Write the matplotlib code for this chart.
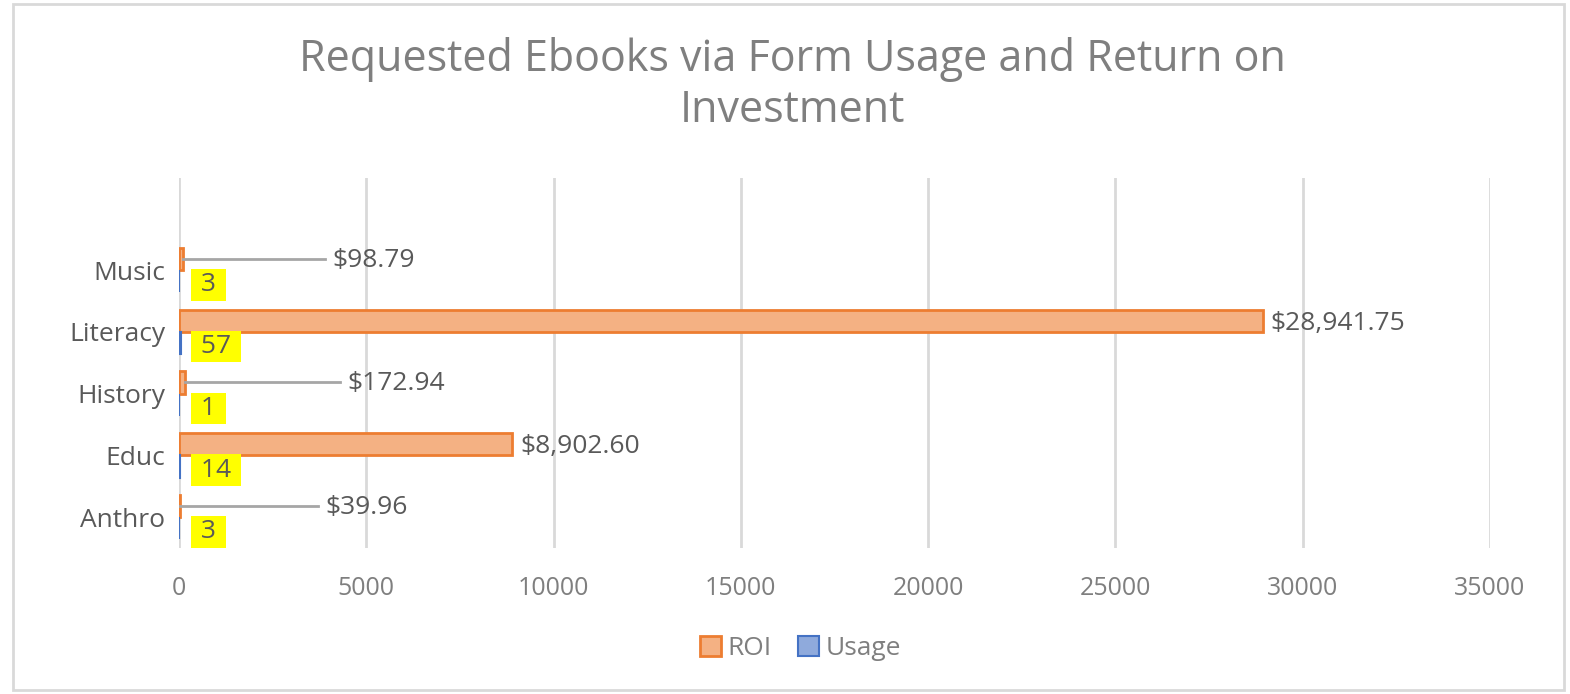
import numpy as np
import matplotlib.pyplot as plt
from matplotlib.patches import Rectangle

categories = ["Anthro", "Educ", "History", "Literacy", "Music"]
roi = [39.96, 8902.60, 172.94, 28941.75, 98.79]
usage = [3, 14, 1, 57, 3]
xticks = [0, 5000, 10000, 15000, 20000, 25000, 30000, 35000]

plt.rcParams['font.family'] = ['Open Sans', 'DejaVu Sans']
grey = '#7f7f7f'
dark = '#595959'

fig = plt.figure(figsize=(15.7, 6.94), dpi=100)
ax = fig.add_axes([0.114, 0.2104, 0.835, 0.5331])

y = np.arange(len(categories))
h = 0.36
ax.barh(y + h / 2, roi, height=h, color='#F4B183', edgecolor='#ED7D31',
        linewidth=2, label='ROI', zorder=3)
ax.barh(y - h / 2, usage, height=h, color='#8FAADC', edgecolor='#4472C4',
        linewidth=1.5, label='Usage', zorder=3)

# ROI labels: small values moved out with a leader line
lead_end = {0: 3700, 2: 4300, 4: 3900}
for i, v in enumerate(roi):
    txt = f"${v:,.2f}"
    if i in lead_end:
        ax.plot([v, lead_end[i]], [y[i] + h / 2, y[i] + h / 2], color='#a6a6a6',
                lw=2, zorder=4)
        ax.text(lead_end[i] + 200, y[i] + h / 2 - 0.02, txt, fontsize=19,
                color=dark, va='center', ha='left', zorder=5)
    else:
        ax.text(v + 200, y[i] + h / 2 - 0.04, txt, fontsize=19, color=dark,
                va='center', ha='left', zorder=5)

for i, v in enumerate(usage):
    ax.text(400, y[i] - h / 2 - 0.06, f" {v} ", fontsize=19, color=dark,
            va='center', ha='left', zorder=6,
            bbox=dict(boxstyle='square,pad=0.12', fc='#FFFF00', ec='none'))

ax.set_xlim(0, 35000)
ax.set_ylim(-0.5, 5.49)
ax.set_xticks(xticks)
ax.set_xticklabels([str(t) for t in xticks], fontsize=18, color=grey)
ax.set_yticks(y)
ax.set_yticklabels(categories, fontsize=19, color=dark)
ax.tick_params(length=0, pad=10)
ax.tick_params(axis='x', pad=20)
ax.grid(axis='x', color='#d9d9d9', lw=2, zorder=0)
for s in ax.spines.values():
    s.set_visible(False)

fig.text(0.505, 0.877, "Requested Ebooks via Form Usage and Return on\nInvestment",
         ha='center', va='center', fontsize=31, color=grey, linespacing=1.2)

handles, labels = ax.get_legend_handles_labels()
fig.legend(handles, labels, loc='center', bbox_to_anchor=(0.51, 0.066), ncol=2,
           frameon=False, fontsize=19, handlelength=0.8, handleheight=0.8,
           handletextpad=0.25, columnspacing=1.0, labelcolor=grey)

fig.add_artist(Rectangle((0.008, 0.006), 0.988, 0.988, transform=fig.transFigure,
                         fill=False, ec='#d9d9d9', lw=2))

fig.savefig('out.png', dpi=100)
